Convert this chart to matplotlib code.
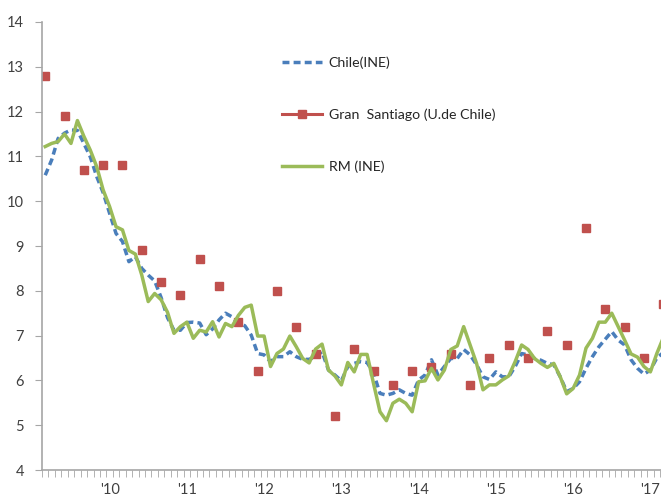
import matplotlib
matplotlib.use("Agg")
import matplotlib.pyplot as plt
from matplotlib.lines import Line2D
import numpy as np

# Monthly series, Mar 2009 (index 0) to Mar 2017 (index 96)
chile_ine = [10.58, 10.92, 11.40, 11.52, 11.59, 11.58, 11.29, 10.99, 10.55, 10.19,
             9.73, 9.28, 9.10, 8.65, 8.76, 8.50, 8.35, 8.22, 7.85, 7.40,
             7.12, 7.12, 7.29, 7.30, 7.28, 7.02, 7.15, 7.35, 7.50, 7.42,
             7.28, 7.22, 7.01, 6.60, 6.57, 6.42, 6.53, 6.53, 6.64, 6.53,
             6.47, 6.47, 6.53, 6.64, 6.23, 6.12, 5.99, 6.31, 6.38, 6.42,
             6.40, 6.16, 5.71, 5.67, 5.71, 5.79, 5.71, 5.67, 6.01, 6.12,
             6.46, 6.12, 6.31, 6.49, 6.49, 6.69, 6.57, 6.35, 6.08, 6.02,
             6.19, 6.08, 6.08, 6.31, 6.60, 6.57, 6.49, 6.45, 6.38, 6.35,
             6.08, 5.75, 5.82, 5.97, 6.27, 6.53, 6.75, 6.92, 7.09, 6.90,
             6.79, 6.46, 6.27, 6.14, 6.23, 6.50, 6.62]

rm_ine = [11.22, 11.29, 11.33, 11.50, 11.29, 11.80, 11.45, 11.14, 10.77, 10.25,
          9.88, 9.43, 9.36, 8.90, 8.82, 8.35, 7.76, 7.94, 7.80, 7.52,
          7.05, 7.20, 7.30, 6.94, 7.12, 7.08, 7.31, 6.97, 7.27, 7.20,
          7.45, 7.63, 7.68, 6.99, 6.99, 6.31, 6.60, 6.70, 6.99, 6.75,
          6.49, 6.39, 6.70, 6.81, 6.23, 6.10, 5.90, 6.40, 6.19, 6.58,
          6.58, 5.93, 5.30, 5.10, 5.49, 5.58, 5.49, 5.30, 5.97, 5.99,
          6.27, 6.01, 6.23, 6.69, 6.77, 7.20, 6.79, 6.38, 5.79, 5.90,
          5.90, 6.01, 6.10, 6.42, 6.79, 6.69, 6.49, 6.38, 6.29, 6.38,
          6.08, 5.70, 5.82, 6.12, 6.72, 6.94, 7.30, 7.30, 7.50, 7.20,
          6.90, 6.59, 6.52, 6.31, 6.19, 6.60, 6.95]

# Quarterly survey (Mar, Jun, Sep, Dec)
gran_santiago = [12.8, 11.9, 10.7, 10.8, 10.8, 8.9, 8.2, 7.9, 8.7, 8.1,
                 7.3, 6.2, 8.0, 7.2, 6.6, 5.2, 6.7, 6.2, 5.9, 6.2,
                 6.3, 6.6, 5.9, 6.5, 6.8, 6.5, 7.1, 6.8, 9.4, 7.6,
                 7.2, 6.5, 7.7]

year_labels = ["'10", "'11", "'12", "'13", "'14", "'15", "'16", "'17"]

blue = "#4A7EBB"
red = "#C0504D"
green = "#9BBB59"
grey = "#A6A6A6"

plt.rcParams["font.family"] = ["Lato", "DejaVu Sans"]

fig = plt.figure(figsize=(6.61, 4.98), dpi=100)
ax = fig.add_axes([42 / 661, 28 / 498, 619 / 661, 448 / 498])

months = np.arange(len(chile_ine))
quarters = np.arange(len(gran_santiago)) * 3

ax.plot(months, chile_ine, color=blue, lw=2.5, dashes=(2, 1.2), label="Chile(INE)")
ax.plot(quarters, gran_santiago, color=red, ls="none", marker="s", ms=5.8,
        mec=red, label="Gran  Santiago (U.de Chile)")
ax.plot(months, rm_ine, color=green, lw=2.5, label="RM (INE)")

ax.set_xlim(-0.5, 95.65)
ax.set_ylim(4, 14)
ax.set_yticks(range(4, 15))

jan_idx = np.arange(10, 97, 12)
ax.set_xticks(jan_idx)
ax.set_xticklabels(year_labels)
ax.set_xticks(np.arange(-0.5, 96, 1), minor=True)
ax.tick_params(axis="x", which="major", length=0, pad=9, labelsize=10.5, labelcolor="#404040")
ax.tick_params(axis="x", which="minor", length=5, color=grey, direction="out")
ax.tick_params(axis="y", length=5, color=grey, pad=8, labelsize=10.5, labelcolor="#404040")

for s in ["top", "right"]:
    ax.spines[s].set_visible(False)
for s in ["left", "bottom"]:
    ax.spines[s].set_color(grey)
    ax.spines[s].set_linewidth(1.2)

handles = [
    Line2D([], [], color=blue, lw=2.5, dashes=(2, 1.2)),
    Line2D([], [], color=red, lw=2.2, marker="s", ms=5.8),
    Line2D([], [], color=green, lw=2.5),
]
labels = ["Chile(INE)", "Gran  Santiago (U.de Chile)", "RM (INE)"]
fig.legend(handles, labels, loc="upper left", bbox_to_anchor=(282 / 661, 1 - 56 / 498),
           frameon=False, fontsize=10.2, handlelength=2.85, handletextpad=0.45,
           labelspacing=2.8, borderpad=0, borderaxespad=0, labelcolor="#262626")

fig.savefig("out.png", dpi=100)
